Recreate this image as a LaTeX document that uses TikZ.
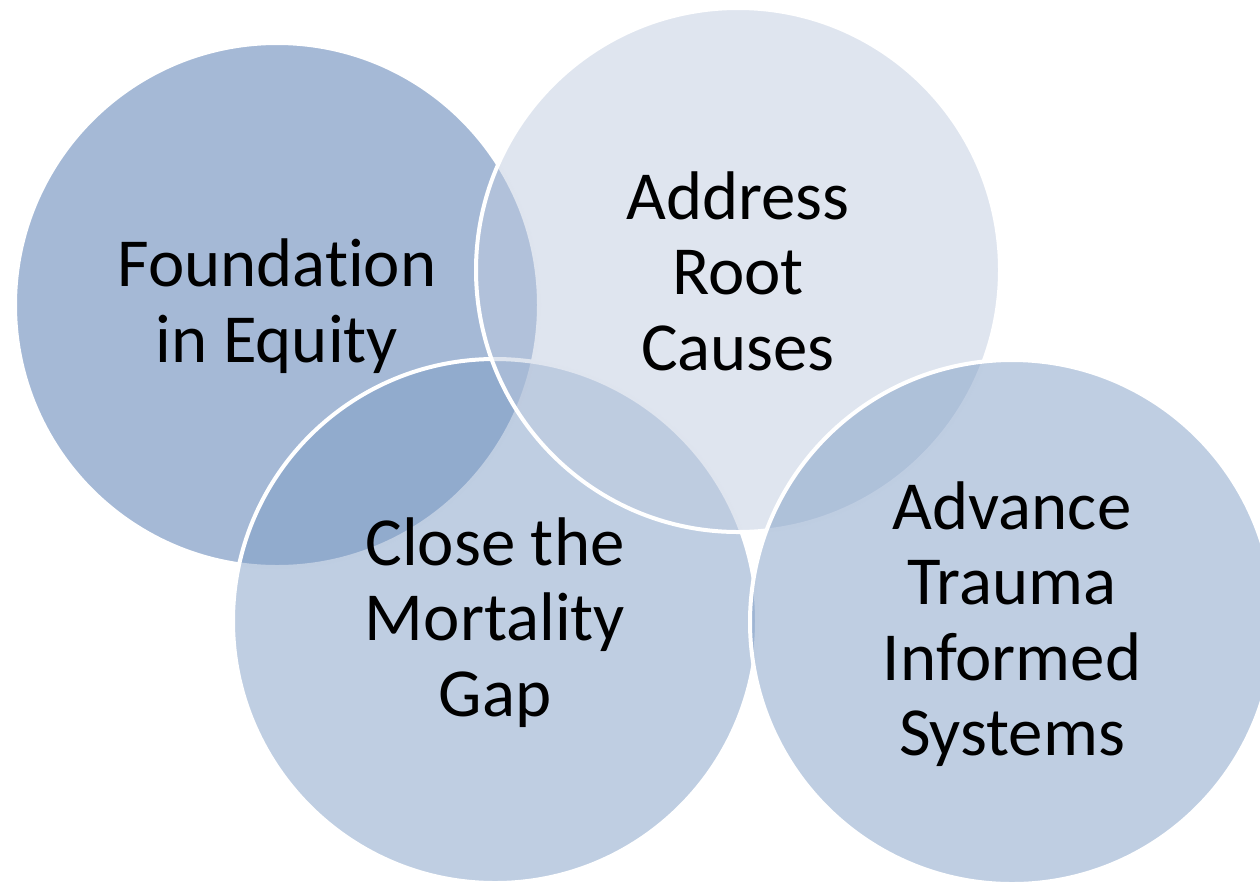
\documentclass[tikz,border=0pt]{standalone}
\usepackage{fontspec}
\setmainfont{Carlito}[Ligatures=NoCommon]
\definecolor{cA}{RGB}{75,115,173}
\definecolor{cB}{RGB}{191,203,223}
\definecolor{cC}{RGB}{127,157,197}
\begin{document}
\begin{tikzpicture}[x=0.75pt,y=-0.75pt,
  bubble/.style={circle, minimum size=393pt, inner sep=0pt, fill opacity=0.5, draw=white, line width=3pt},
  caption/.style={align=center, font=\fontsize{51.6}{56.6}\selectfont, inner sep=0pt, text=black}]
\clip (0,0) rectangle (1260,883);
\node[bubble, fill=cA] (c1) at (277,305) {};
\node[bubble, fill=cC] (c3) at (495,621) {};
\node[bubble, fill=cB] (c2) at (738,270) {};
\node[bubble, fill=cC] (c4) at (1012,622) {};
\node[caption] (t1) at ([yshift=-1pt]c1.center) {Foundation\\in Equity};
\node[caption] (t2) at ([yshift=-1pt]c2.center) {Address\\Root\\Causes};
\node[caption] (t3) at ([yshift=-1pt]c3.center) {Close the\\Mortality\\Gap};
\node[caption] (t4) at ([yshift=-1.5pt]c4.center) {Advance\\Trauma\\Informed\\Systems};
\end{tikzpicture}
\end{document}
